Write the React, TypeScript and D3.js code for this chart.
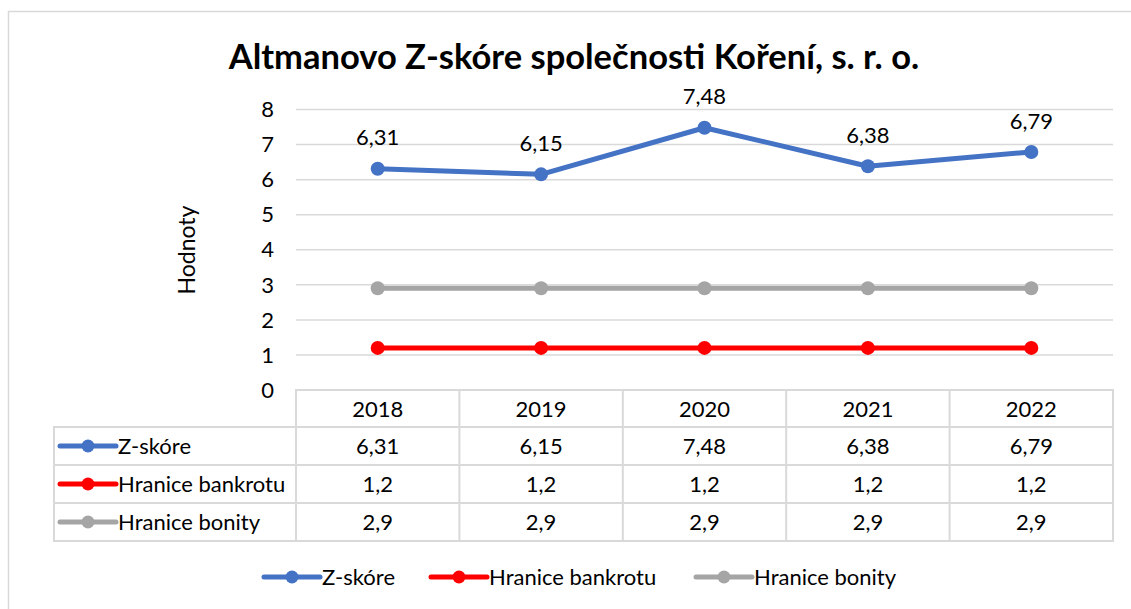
import React from 'react';
import * as d3 from 'd3';

const years = ['2018', '2019', '2020', '2021', '2022'];
const zScore = [6.31, 6.15, 7.48, 6.38, 6.79];
const bankruptcyLimit = [1.2, 1.2, 1.2, 1.2, 1.2];
const creditLimit = [2.9, 2.9, 2.9, 2.9, 2.9];
const yTicks = [0, 1, 2, 3, 4, 5, 6, 7, 8];

const series = [
  { name: 'Z-skóre', values: zScore, color: '#4472C4' },
  { name: 'Hranice bankrotu', values: bankruptcyLimit, color: '#FF0000' },
  { name: 'Hranice bonity', values: creditLimit, color: '#A5A5A5' },
];

const W = 1131;
const H = 609;
const FONT = 'Lato, "Open Sans", sans-serif';
const GRID = '#d9d9d9';
const FS = 22;

// plot area / data table geometry
const plotLeft = 296;
const plotRight = 1113;
const plotTop = 109.5;
const plotBottom = 390;
const rowH = 38;
const tableLeft = 54;

const fmt = (v: number) => String(v).replace('.', ',');

const App = () => {
  const x = d3.scaleBand<string>().domain(years).range([plotLeft, plotRight]);
  const y = d3.scaleLinear().domain([0, 8]).range([plotBottom, plotTop]);
  const cx = (d: string) => (x(d) as number) + x.bandwidth() / 2;

  const line = d3.line<number>()
    .x((_, i) => cx(years[i]))
    .y(v => y(v));

  const rowTop = (i: number) => plotBottom + rowH * (i + 1) - 1;

  const legendKey = (x0: number, color: string) => (
    <g>
      <line x1={x0} x2={x0 + 56} y1={0} y2={0} stroke={color} strokeWidth={5} strokeLinecap="round" />
      <circle cx={x0 + 28} cy={0} r={6.5} fill={color} />
    </g>
  );

  const bottomLegend = [264, 431, 696];

  return (
    <svg width={W} height={H} style={{ position: 'absolute', left: 0, top: 0, background: '#fff' }} fontFamily={FONT}>
      <rect x={8.5} y={11.5} width={1130} height={620} fill="#fff" stroke={GRID} strokeWidth={1.5} />

      <text x={574} y={69} textAnchor="middle" fontSize={34.5} fontWeight="bold" fill="#000">
        Altmanovo Z-skóre společnosti Koření, s. r. o.
      </text>

      {/* gridlines */}
      {yTicks.filter(t => t > 0).map(t => (
        <line key={t} x1={plotLeft} x2={plotRight} y1={y(t)} y2={y(t)} stroke={GRID} strokeWidth={1.5} />
      ))}

      {/* y tick labels */}
      {yTicks.map(t => (
        <text key={t} x={274} y={y(t)} dy="0.35em" textAnchor="end" fontSize={FS} fill="#000">{t}</text>
      ))}

      <text transform={`translate(187,250) rotate(-90)`} dy="0.35em" textAnchor="middle" fontSize={23} fill="#000">Hodnoty</text>

      {/* series lines */}
      {series.slice().reverse().map(s => (
        <g key={s.name}>
          <path d={line(s.values) || ''} fill="none" stroke={s.color} strokeWidth={5} strokeLinejoin="round" />
          {s.values.map((v, i) => (
            <circle key={i} cx={cx(years[i])} cy={y(v)} r={7} fill={s.color} />
          ))}
        </g>
      ))}

      {/* data labels */}
      {zScore.map((v, i) => (
        <text key={i} x={cx(years[i])} y={y(v) - 31} dy="0.35em" textAnchor="middle" fontSize={FS} fill="#000">{fmt(v)}</text>
      ))}

      {/* data table */}
      <g stroke={GRID} strokeWidth={2} fill="none">
        <rect x={plotLeft} y={plotBottom} width={plotRight - plotLeft} height={rowH * 4 - 1} />
        <rect x={tableLeft} y={rowTop(0)} width={plotRight - tableLeft} height={rowH * 3} />
        {years.slice(1).map(yr => (
          <line key={yr} x1={x(yr)} x2={x(yr)} y1={plotBottom} y2={rowTop(3)} />
        ))}
        {[1, 2].map(i => (
          <line key={i} x1={tableLeft} x2={plotRight} y1={rowTop(i)} y2={rowTop(i)} />
        ))}
      </g>
      {years.map(yr => (
        <text key={yr} x={cx(yr)} y={plotBottom + rowH / 2} dy="0.35em" textAnchor="middle" fontSize={FS} fill="#000">{yr}</text>
      ))}
      {series.map((s, r) => (
        <g key={s.name}>
          <g transform={`translate(0,${rowTop(r) + rowH / 2})`}>
            {legendKey(60, s.color)}
            <text x={118} y={0} dy="0.35em" fontSize={FS} fill="#000">{s.name}</text>
          </g>
          {s.values.map((v, i) => (
            <text key={i} x={cx(years[i])} y={rowTop(r) + rowH / 2} dy="0.35em" textAnchor="middle" fontSize={FS} fill="#000">{fmt(v)}</text>
          ))}
        </g>
      ))}

      {/* bottom legend */}
      {series.map((s, i) => (
        <g key={s.name} transform={`translate(0,577)`}>
          {legendKey(bottomLegend[i], s.color)}
          <text x={bottomLegend[i] + 58} y={0} dy="0.35em" fontSize={FS} fill="#000">{s.name}</text>
        </g>
      ))}
    </svg>
  );
};

export default App;
